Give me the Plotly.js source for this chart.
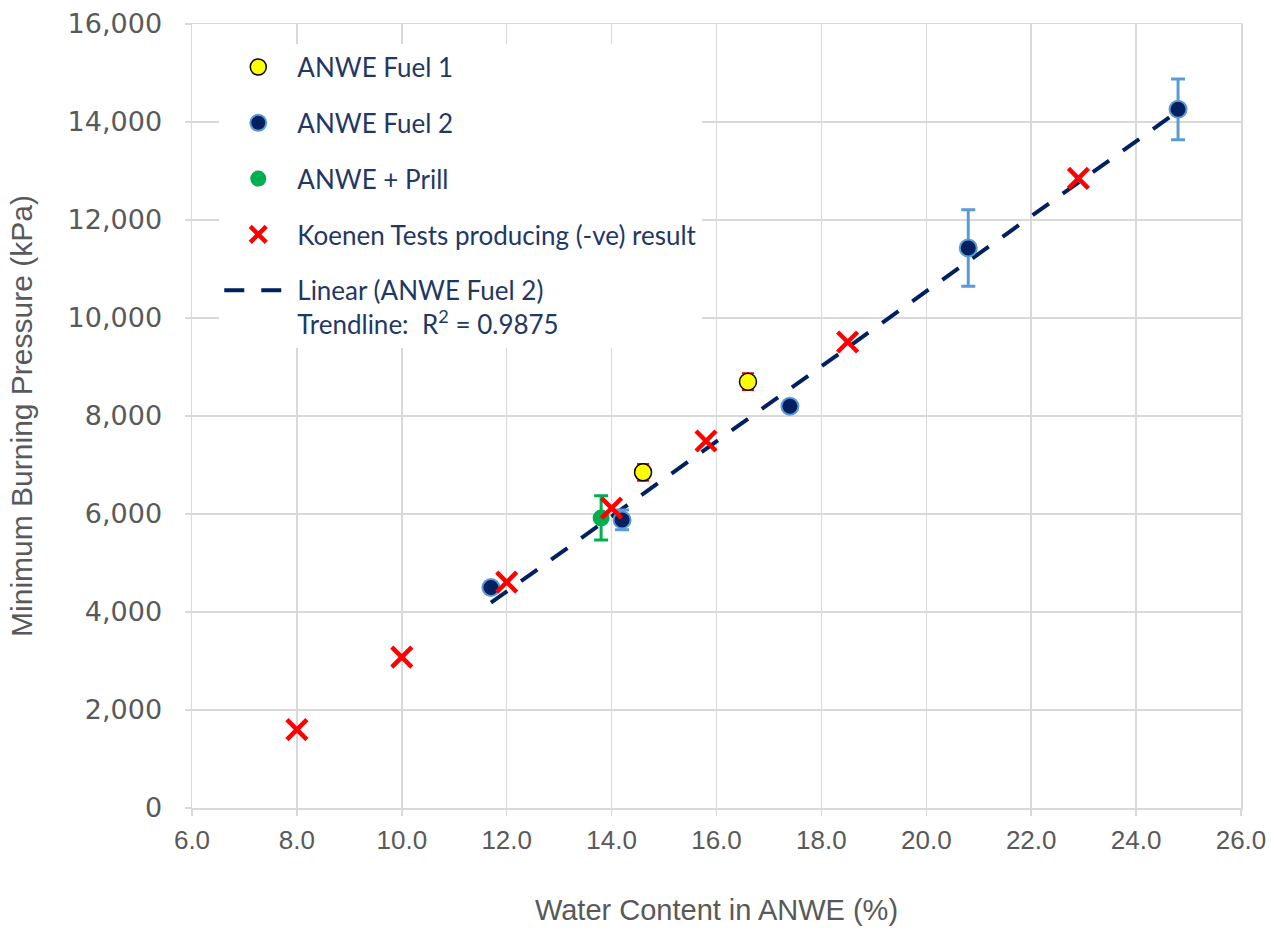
<!DOCTYPE html>
<html><head><meta charset="utf-8">
<script src="https://cdn.plot.ly/plotly-3.0.1.min.js"></script>
<style>html,body{margin:0;padding:0;background:#fff}#chart{width:1274px;height:931px}</style>
</head><body><div id="chart"></div>
<script>
// Data
const fuel1X = [14.6, 16.6];
const fuel1Y = [6850, 8700];
const fuel1Err = [170, 170];

const fuel2X = [11.7, 14.2, 17.4, 20.8, 24.8];
const fuel2Y = [4500, 5880, 8200, 11430, 14260];
const fuel2Err = [0, 200, 0, 780, 620];

const prillX = [13.8];
const prillY = [5920];
const prillErr = [450];

const koenenX = [8.0, 10.0, 12.0, 14.0, 15.8, 18.5, 22.9];
const koenenY = [1600, 3080, 4610, 6120, 7490, 9510, 12850];

const trendX = [11.7, 24.8];
const trendY = [4190, 14220];

const xTicks = [6, 8, 10, 12, 14, 16, 18, 20, 22, 24, 26];
const yTicks = [0, 2000, 4000, 6000, 8000, 10000, 12000, 14000, 16000];

const navy = '#002060';
const grid = '#D9D9D9';

const trend = {x: trendX, y: trendY, type: 'scatter', mode: 'lines', name: 'Linear (ANWE Fuel 2)<br>Trendline:  R<sup>2</sup> = 0.9875', legendgroup: 'e', legendrank: 5,
   line: {color: navy, width: 4, dash: '20px,17px'}};
const traces = [
  trend,
  {x: fuel1X, y: fuel1Y, type: 'scatter', mode: 'markers', name: 'ANWE Fuel 1', legendgroup: 'a', legendrank: 1,
   marker: {color: '#FFFF00', size: 17, line: {color: '#000000', width: 1.5}},
   error_y: {type: 'data', array: fuel1Err, visible: true, color: '#FF0000', thickness: 2, width: 6}},
  {x: fuel2X, y: fuel2Y, type: 'scatter', mode: 'markers', name: 'ANWE Fuel 2', legendgroup: 'b', legendrank: 2,
   marker: {color: navy, size: 17, line: {color: '#5B9BD5', width: 2}},
   error_y: {type: 'data', array: fuel2Err, visible: true, color: '#5B9BD5', thickness: 3, width: 7}},
  {x: prillX, y: prillY, type: 'scatter', mode: 'markers', name: 'ANWE + Prill', legendgroup: 'c', legendrank: 3,
   marker: {color: '#00B050', size: 17},
   error_y: {type: 'data', array: prillErr, visible: true, color: '#00B050', thickness: 3, width: 7}},
  {x: koenenX, y: koenenY, type: 'scatter', mode: 'markers', name: 'Koenen Tests producing (-ve) result', legendgroup: 'd', legendrank: 4,
   marker: {symbol: 'x-thin', size: 20, color: '#FF0000', line: {color: '#FF0000', width: 4.5}}}
];

const layout = {
  width: 1274, height: 931,
  margin: {l: 192, r: 33, t: 24, b: 123},
  paper_bgcolor: '#FFFFFF', plot_bgcolor: '#FFFFFF',
  showlegend: true,
  legend: {
    x: 0.026, y: 0.975, xanchor: 'left', yanchor: 'top',
    bgcolor: '#FFFFFF', borderwidth: 0,
    font: {family: 'Lato, Calibri, sans-serif', size: 26, color: '#1F3864'},
    itemwidth: 68, tracegroupgap: 19, traceorder: 'grouped', valign: 'top'
  },
  xaxis: {
    range: [6, 26], tickvals: xTicks, ticktext: xTicks.map(v => v.toFixed(1)),
    showgrid: true, gridcolor: grid, gridwidth: 1.5,
    showline: true, linecolor: grid, linewidth: 1.5, mirror: true,
    ticks: 'outside', ticklen: 6, tickcolor: grid, tickwidth: 1.5,
    zeroline: false, ticklabelstandoff: 2,
    tickfont: {family: 'Liberation Sans Narrow, Arial Narrow, sans-serif', size: 26, color: '#595959'},
    title: {text: 'Water Content in ANWE (%)', standoff: 46,
      font: {family: 'Liberation Sans Narrow, Arial Narrow, sans-serif', size: 29, color: '#595959'}}
  },
  yaxis: {
    range: [0, 16000], tickvals: yTicks, ticktext: yTicks.map(v => v.toLocaleString('en-US')),
    showgrid: true, gridcolor: grid, gridwidth: 1.5,
    showline: true, linecolor: grid, linewidth: 1.5, mirror: true,
    ticks: 'outside', ticklen: 6, tickcolor: grid, tickwidth: 1.5,
    zeroline: false, ticklabelstandoff: 17,
    tickfont: {family: 'DejaVu Sans, Verdana, sans-serif', size: 27, color: '#595959'},
    title: {text: 'Minimum Burning Pressure (kPa)', standoff: 26,
      font: {family: 'Liberation Sans Narrow, Arial Narrow, sans-serif', size: 30, color: '#595959'}}
  }
};

Plotly.newPlot('chart', traces, layout, {displayModeBar: false, staticPlot: true});
</script>
</body></html>
